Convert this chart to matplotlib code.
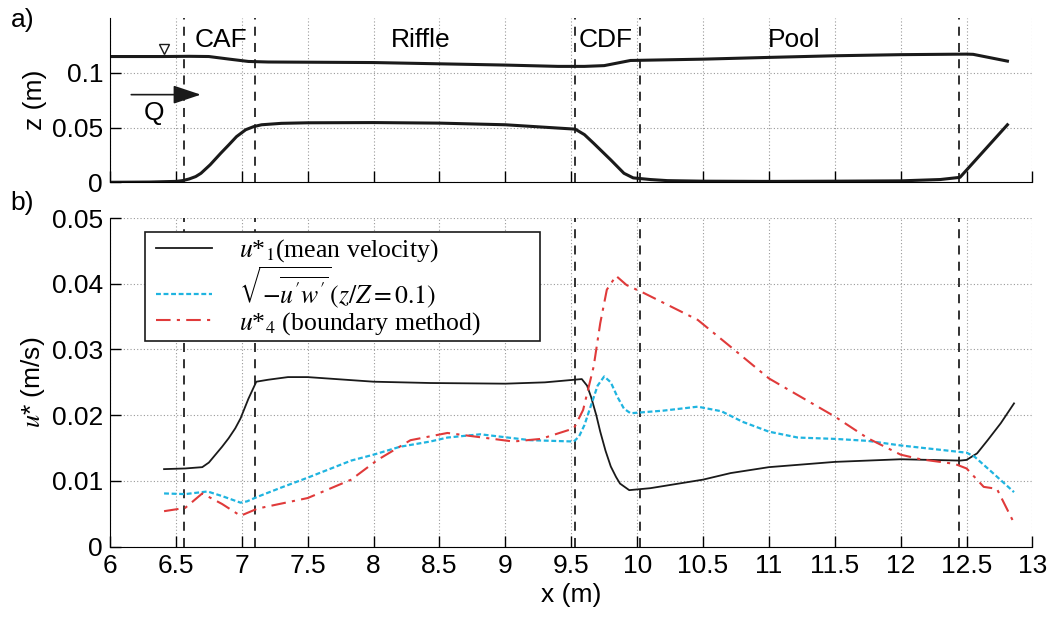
import matplotlib
matplotlib.use("Agg")
import matplotlib.pyplot as plt
from matplotlib.font_manager import FontProperties
from matplotlib.patches import Rectangle

plt.rcParams['font.family'] = ['Liberation Sans', 'DejaVu Sans']
plt.rcParams['font.size'] = 19

# --- panel a) : water surface and bed profile ---
surf_x = [6.0, 6.4, 6.6, 6.75, 6.9, 7.05, 7.2, 8.0, 9.0, 9.4, 9.6, 9.75, 9.95,
          10.5, 11.0, 11.5, 12.0, 12.5, 12.55, 12.81]
surf_z = [0.1148, 0.1148, 0.1150, 0.1148, 0.1125, 0.1103, 0.1098, 0.1093, 0.1070,
          0.1058, 0.1058, 0.1065, 0.1112, 0.1124, 0.1140, 0.1155, 0.1165, 0.1170,
          0.1168, 0.1106]

bed_x = [6.0, 6.3, 6.5, 6.55, 6.6, 6.65, 6.69, 6.76, 6.84, 6.9, 6.96, 7.03, 7.09,
         7.15, 7.3, 7.5, 8.0, 8.5, 9.0, 9.53, 9.6, 9.67, 9.8, 9.9, 9.97, 10.1,
         10.23, 10.5, 11.0, 11.5, 12.0, 12.3, 12.45, 12.81]
bed_z = [0.0, 0.0002, 0.0008, 0.0015, 0.003, 0.0052, 0.0082, 0.016, 0.0265, 0.034,
         0.0417, 0.048, 0.0508, 0.0525, 0.0538, 0.0543, 0.0545, 0.0540, 0.0525,
         0.0485, 0.0435, 0.0356, 0.0204, 0.0082, 0.0040, 0.0025, 0.0015, 0.0010,
         0.0008, 0.0010, 0.0013, 0.0025, 0.0045, 0.0525]

section_x = [6.56, 7.1, 9.53, 10.02, 12.44]
region_names = ["CAF", "Riffle", "CDF", "Pool"]
region_x = [6.84, 8.36, 9.76, 11.19]

# --- panel b) : shear velocity estimates ---
u1_x = [6.41, 6.57, 6.70, 6.75, 6.8, 6.85, 6.9, 6.95, 6.99, 7.05, 7.11, 7.2, 7.35,
        7.5, 8.0, 8.43, 9.0, 9.3, 9.58, 9.62, 9.65, 9.69, 9.72, 9.76, 9.80, 9.84,
        9.87, 9.94, 10.1, 10.5, 10.71, 11.0, 11.5, 12.0, 12.45, 12.5, 12.58, 12.66,
        12.76, 12.86]
u1_y = [0.0118, 0.0119, 0.0121, 0.0128, 0.0140, 0.0152, 0.0165, 0.0180, 0.0195,
        0.0225, 0.0251, 0.0254, 0.0258, 0.0258, 0.0251, 0.0249, 0.0248, 0.0250,
        0.0255, 0.0245, 0.0228, 0.0200, 0.0175, 0.0146, 0.0122, 0.0106, 0.0096,
        0.0086, 0.0089, 0.0102, 0.0112, 0.0121, 0.0129, 0.0133, 0.0131, 0.0132,
        0.0142, 0.0162, 0.0188, 0.0218]

uw_x = [6.41, 6.57, 6.74, 6.85, 6.99, 7.04, 7.12, 7.3, 7.5, 7.83, 8.0, 8.2, 8.43,
        8.56, 8.81, 9.19, 9.52, 9.56, 9.6, 9.65, 9.7, 9.75, 9.8, 9.85, 9.9, 9.95,
        10.2, 10.46, 10.64, 10.8, 11.0, 11.22, 11.5, 11.75, 12.0, 12.5, 12.56, 12.7,
        12.86]
uw_y = [0.0081, 0.0080, 0.0084, 0.0077, 0.0067, 0.0069, 0.0076, 0.0090, 0.0105,
        0.0131, 0.0140, 0.0152, 0.0160, 0.0166, 0.0171, 0.0162, 0.0160, 0.0168,
        0.0185, 0.0215, 0.0245, 0.0259, 0.0250, 0.0228, 0.0210, 0.0203, 0.0207,
        0.0213, 0.0206, 0.0190, 0.0175, 0.0166, 0.0164, 0.0161, 0.0154, 0.0143,
        0.0137, 0.0112, 0.0083]

u4_x = [6.41, 6.57, 6.70, 6.85, 6.99, 7.12, 7.5, 7.83, 8.03, 8.28, 8.56, 9.06,
        9.27, 9.52, 9.59, 9.67, 9.72, 9.77, 9.84, 9.92, 10.05, 10.46, 10.71, 11.0,
        11.5, 11.75, 12.0, 12.15, 12.41, 12.5, 12.63, 12.73, 12.86]
u4_y = [0.0054, 0.0059, 0.0081, 0.0065, 0.0047, 0.0058, 0.0074, 0.0102, 0.0132,
        0.0162, 0.0173, 0.0160, 0.0164, 0.0180, 0.0208, 0.0274, 0.0340, 0.0391,
        0.0412, 0.0398, 0.0386, 0.0345, 0.0304, 0.0256, 0.0198, 0.0165, 0.0140,
        0.0133, 0.0126, 0.0119, 0.0091, 0.0088, 0.0036]

x_ticks = [6, 6.5, 7, 7.5, 8, 8.5, 9, 9.5, 10, 10.5, 11, 11.5, 12, 12.5, 13]
x_labels = ['6', '6.5', '7', '7.5', '8', '8.5', '9', '9.5', '10', '10.5',
            '11', '11.5', '12', '12.5', '13']

fig = plt.figure(figsize=(10.5, 6.24), dpi=100)
ax1 = fig.add_axes([0.1048, 0.7079, 0.8785, 0.2633])
ax2 = fig.add_axes([0.1048, 0.1239, 0.8785, 0.5267])

for ax in (ax1, ax2):
    ax.spines['top'].set_visible(False)
    ax.spines['right'].set_visible(False)
    ax.set_xlim(6, 13)
    ax.set_xticks(x_ticks)
    ax.grid(True, linestyle=(0, (1, 2)), color='#999999', linewidth=0.8)
    ax.tick_params(direction='in', length=8, width=1, pad=5)
    for xs in section_x:
        ax.axvline(xs, color='#222222', linestyle=(0, (5, 4)), linewidth=1.3)

# panel a
ax1.plot(surf_x, surf_z, color='#1a1a1a', linewidth=2.2)
ax1.plot(bed_x, bed_z, color='#1a1a1a', linewidth=2.2)
ax1.set_ylim(0, 0.15)
ax1.set_yticks([0, 0.05, 0.1])
ax1.set_yticklabels(['0', '0.05', '0.1'])
ax1.tick_params(axis='x', labelbottom=False)
ax1.set_ylabel('z (m)')
ax1.yaxis.set_label_coords(-0.068, 0.5)
for name, xr in zip(region_names, region_x):
    ax1.text(xr, 0.13, name, ha='center', va='center', fontsize=19)
ax1.plot([6.41], [0.1215], marker='v', markersize=7, markerfacecolor='white',
         markeredgecolor='#1a1a1a', markeredgewidth=1)
ax1.annotate('', xy=(6.71, 0.080), xytext=(6.14, 0.080),
             arrowprops=dict(arrowstyle='-|>,head_length=0.9,head_width=0.3',
                             color='#1a1a1a', linewidth=1.2))
ax1.text(6.33, 0.063, 'Q', ha='center', va='center', fontsize=19)
fig.text(0.010, 0.968, 'a)', ha='left', va='center', fontsize=19)

# panel b
ax2.plot(u1_x, u1_y, color='#1a1a1a', linewidth=1.3,
         label=r'$u$*$_{\mathit{1}}$(mean velocity)')
ax2.plot(uw_x, uw_y, color='#1fb4e0', linewidth=1.6, linestyle=(0, (2.2, 1.2)),
         label=r"$\sqrt{-\overline{u'w'}}(z/Z=0.1)$")
ax2.plot(u4_x, u4_y, color='#e03a3a', linewidth=1.5, linestyle=(0, (7, 3, 1.5, 3)),
         label=r'$u$*$_{\mathit{4}}$ (boundary method)')
ax2.set_ylim(0, 0.05)
ax2.set_yticks([0, 0.01, 0.02, 0.03, 0.04, 0.05])
ax2.set_yticklabels(['0', '0.01', '0.02', '0.03', '0.04', '0.05'])
ax2.set_xticklabels(x_labels)
ax2.set_xlabel('x (m)', labelpad=4)
ax2.set_ylabel(r'$u$* (m/s)', math_fontfamily='stix')
ax2.yaxis.set_label_coords(-0.068, 0.5)
fig.text(0.010, 0.674, 'b)', ha='left', va='center', fontsize=19)

# legend box is wider than its entries in the original, so draw it by hand
ax2.add_patch(Rectangle((0.038, 0.627), 0.428, 0.331, transform=ax2.transAxes,
                        facecolor='white', edgecolor='#1a1a1a', linewidth=1.2,
                        zorder=4))
leg_font = FontProperties(family=['Liberation Serif', 'DejaVu Serif'], size=18.5,
                          math_fontfamily='stix')
leg = ax2.legend(loc='upper left', bbox_to_anchor=(0.042, 0.965), borderaxespad=0,
                 prop=leg_font, frameon=False,
                 handlelength=2.15, handletextpad=1.05, labelspacing=0.0,
                 borderpad=0.3)
leg.set_zorder(5)

fig.savefig('out.png', dpi=100)
